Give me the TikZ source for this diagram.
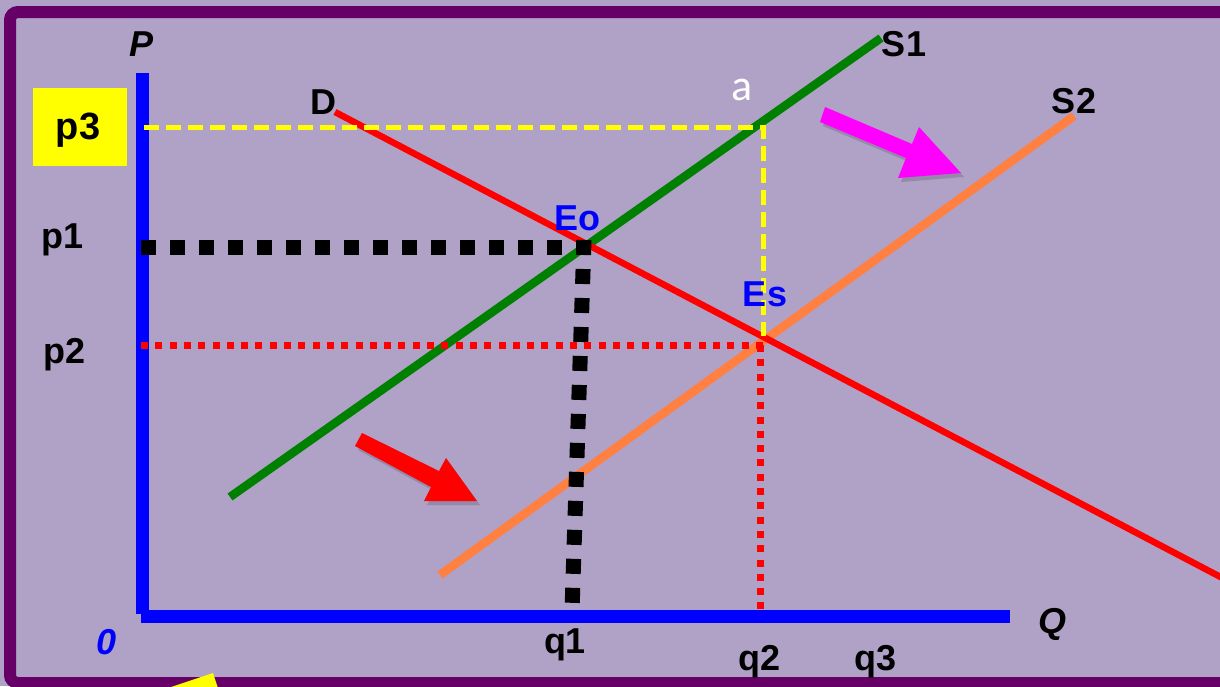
\documentclass[tikz,border=0pt]{standalone}
\usepackage{fontspec}
\setmainfont{Liberation Sans}
\newfontfamily\calfont{Carlito}
\definecolor{bgc}{RGB}{176,161,199}
\definecolor{frame}{RGB}{102,0,102}
\definecolor{axblue}{RGB}{0,0,255}
\definecolor{sgreen}{RGB}{0,128,0}
\definecolor{sorange}{RGB}{255,128,64}
\definecolor{dred}{RGB}{255,0,0}
\definecolor{amag}{RGB}{255,0,255}
\definecolor{ylw}{RGB}{255,255,0}
\begin{document}
\begin{tikzpicture}[x=1pt,y=-1pt,
  lbl/.style={font=\fontsize{36}{40}\selectfont\bfseries, inner sep=0pt, text=black},
  ilbl/.style={font=\fontsize{36}{40}\selectfont\bfseries\itshape, inner sep=0pt},
  axisline/.style={draw=axblue, line width=13pt},
  curve/.style={line width=8.5pt},
  blackdots/.style={draw=black, line width=15pt, dash pattern=on 15pt off 14pt},
  reddots/.style={draw=dred, line width=7pt, dash pattern=on 7pt off 7.3pt},
  ydash/.style={draw=ylw, line width=5pt, dash pattern=on 15pt off 7pt},
  shadowline/.style={draw=black, opacity=0.18, line width=5pt, dash pattern=on 15pt off 7pt},
]
\useasboundingbox (0,0) rectangle (1220,686);
\clip (0,0) rectangle (1220,686);
\fill[bgc] (0,0) rectangle (1220,686);
\draw[frame, line width=12pt, rounded corners=8pt] (1240,12) -- (10,12) -- (10,683) -- (1240,683);

% coordinates
\coordinate (Ptop) at (142.5,73);
\coordinate (Pbot) at (142.5,614);
\coordinate (Qleft) at (141,616.5);
\coordinate (Qright) at (1010,616.5);
\coordinate (S1a) at (230,497);
\coordinate (S1b) at (881,38);
\coordinate (S2a) at (440,575);
\coordinate (S2b) at (1074,116);
\coordinate (Da) at (335,112);
\coordinate (Db) at (1232,583);
\coordinate (p1L) at (141,247);
\coordinate (EoPt) at (584,247);
\coordinate (EoTop) at (584,240);
\coordinate (q1Pt) at (572,611);
\coordinate (p2L) at (141,345);
\coordinate (EsPt) at (765,345);
\coordinate (EsV) at (760,345);
\coordinate (q2Pt) at (760,614);
\coordinate (p3L) at (144,127);
\coordinate (aPt) at (763,127);
\coordinate (aBot) at (763,336);

% axes
\draw[axisline] (Ptop) -- (Pbot);
\draw[axisline] (Qleft) -- (Qright);

% curves
\draw[curve, sgreen] (S1a) -- (S1b);
\draw[curve, sorange] (S2a) -- (S2b);
\draw[line width=6.5pt, dred] (Da) -- (Db);

% guide lines
\draw[blackdots] (p1L) -- (EoPt);
\draw[blackdots] (EoTop) -- (q1Pt);
\draw[reddots] (p2L) -- (EsPt);
\draw[reddots] (EsV) -- (q2Pt);
\draw[shadowline, shift={(2pt,-3pt)}] (p3L) -- (aPt) -- (aBot);
\draw[ydash] (p3L) -- (aPt) -- (aBot);

% arrows (shapes)
\fill[black, opacity=0.15, shift={(3pt,-4pt)}] (825,107) -- (912,144) -- (919,127) -- (961,173) -- (898,178) -- (906,158) -- (820,122) -- cycle;
\fill[amag] (825,107) -- (912,144) -- (919,127) -- (961,173) -- (898,178) -- (906,158) -- (820,122) -- cycle;
\fill[black, opacity=0.15, shift={(3pt,-4pt)}] (362,433) -- (439,471) -- (446,458) -- (477,501) -- (424,501) -- (431,487) -- (355,446) -- cycle;
\fill[dred] (362,433) -- (439,471) -- (446,458) -- (477,501) -- (424,501) -- (431,487) -- (355,446) -- cycle;
\fill[ylw] (168,688) -- (213,673) -- (218,688) -- cycle;

% labels
\node[fill=ylw, minimum width=94pt, minimum height=78pt, inner sep=0pt] (p3box) at (80,127) {};
\node[lbl, font=\fontsize{38}{42}\selectfont\bfseries] (p3) at (78,130) {p3};
\node[lbl] (p1) at (63,240) {p1};
\node[lbl] (p2) at (65,355) {p2};
\node[ilbl] (P) at (142,44) {P};
\node[ilbl] (Q) at (1052,624) {Q};
\node[ilbl, text=axblue] (zero) at (107,642) {0};
\node[lbl] (q1) at (565,645) {q1};
\node[lbl] (q2) at (759,662) {q2};
\node[lbl] (q3) at (875,662) {q3};
\node[lbl] (D) at (323,102) {D};
\node[lbl] (S1) at (904,44) {S1};
\node[lbl] (S2) at (1074,101) {S2};
\node[lbl, text=axblue] (Eo) at (577,218) {Eo};
\node[lbl, text=axblue] (Es) at (765,294) {Es};
\node[inner sep=0pt, text=white, font=\fontsize{44}{48}\selectfont\calfont] (a) at (742,90) {a};
\end{tikzpicture}
\end{document}
